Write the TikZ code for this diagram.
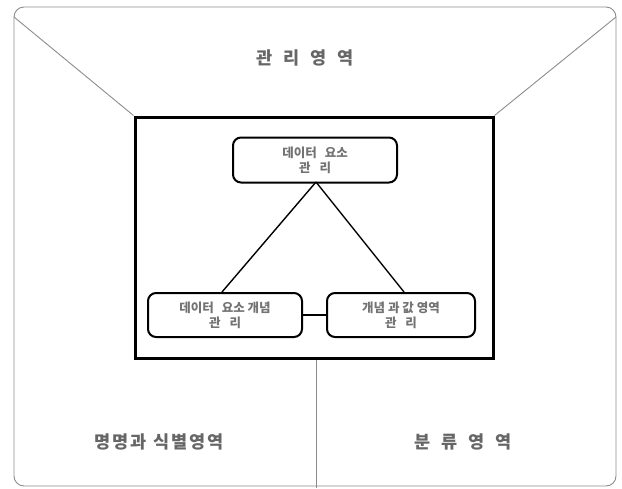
\documentclass[tikz,border=0pt]{standalone}
\usepackage{fontspec}
\newfontfamily\kr{Noto Sans CJK KR}
\begin{document}
\begin{tikzpicture}[x=1pt,y=-1pt,
  thin gray/.style={draw=black!45,line width=0.9pt},
  entity/.style={draw=black,line width=2pt,rounded corners=8pt,align=center,font=\kr\bfseries\fontsize{12.5}{15}\selectfont,text=black!55,inner sep=0pt},
  area/.style={font=\kr\bfseries\fontsize{17.5}{19}\selectfont,text=black!60}]
\useasboundingbox (0,0) rectangle (622,488);
% outer frame
\draw[thin gray,rounded corners=10pt] (14,7) rectangle (616,486);
\coordinate (otl) at (14,17);
\coordinate (otr) at (616,17);
\coordinate (vb) at (316,488);
% inner box
\node[draw=black,line width=3pt,minimum width=358pt,minimum height=241pt,inner sep=0pt] (inner) at (314,237.5) {};
\draw[thin gray] (otl) -- (inner.north west);
\draw[thin gray] (otr) -- (inner.north east);
\draw[thin gray] (inner.south -| vb) -- (vb);
% nodes
\node[entity,minimum width=164pt,minimum height=45pt] (top) at (315,160) {데이터\hspace{8pt}요소\\관\hspace{9pt}리};
\node[entity,minimum width=154pt,minimum height=44pt] (bl) at (225,315) {데이터\hspace{8pt}요소 개념\\관\hspace{9pt}리};
\node[entity,minimum width=148pt,minimum height=44pt] (br) at (401,315) {개념 과 값 영역\\관\hspace{9pt}리};
\coordinate (apex) at (316,182);
\draw[line width=1.4pt] (apex) -- (bl.north -| 222,0);
\draw[line width=1.4pt] (apex) -- (br.north -| 404,0);
\draw[line width=2pt] (bl) -- (br);
% area labels
\node[area] (mgmt) at (305,58) {관\hspace{11pt}리\hspace{11pt}영\hspace{11pt}역};
\node[area] (name) at (159,442) {명\hspace{2pt}명\hspace{2pt}과\hspace{7pt}식\hspace{2pt}별\hspace{2pt}영\hspace{2pt}역};
\node[area] (cls) at (463,442) {분\hspace{11pt}류\hspace{11pt}영\hspace{11pt}역};
\end{tikzpicture}
\end{document}
